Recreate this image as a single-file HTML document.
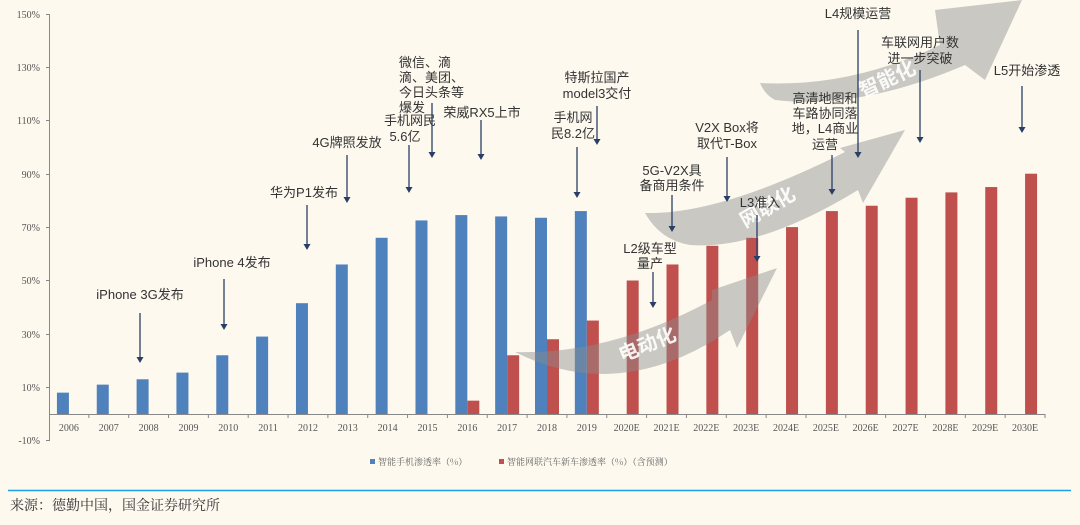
<!DOCTYPE html>
<html><head><meta charset="utf-8"><style>
body{margin:0;background:#fdf9ef;}
svg{display:block;font-family:"Liberation Sans","Noto Sans CJK SC",sans-serif;}
</style></head><body>
<svg width="1080" height="525" viewBox="0 0 1080 525" xmlns="http://www.w3.org/2000/svg">
<rect width="1080" height="525" fill="#fdf9ef"/>
<!-- axes -->
<g stroke="#888" stroke-width="1">
<line x1="49.5" y1="14" x2="49.5" y2="441"/>
<line x1="49" y1="414.5" x2="1045" y2="414.5"/>
<line x1="46" y1="14.5" x2="49" y2="14.5"/><line x1="46" y1="67.5" x2="49" y2="67.5"/>
<line x1="46" y1="120.5" x2="49" y2="120.5"/><line x1="46" y1="174.5" x2="49" y2="174.5"/>
<line x1="46" y1="227.5" x2="49" y2="227.5"/><line x1="46" y1="280.5" x2="49" y2="280.5"/>
<line x1="46" y1="334.5" x2="49" y2="334.5"/><line x1="46" y1="387.5" x2="49" y2="387.5"/>
<line x1="46" y1="440.5" x2="49" y2="440.5"/>
</g>
<g font-family="Liberation Serif,serif" font-size="10" fill="#555" text-anchor="end">
<text x="40" y="18">150%</text><text x="40" y="71">130%</text><text x="40" y="124">110%</text>
<text x="40" y="178">90%</text><text x="40" y="231">70%</text><text x="40" y="284">50%</text>
<text x="40" y="338">30%</text><text x="40" y="391">10%</text><text x="40" y="444">-10%</text>
</g>
<g id="bars"></g>
<g id="xl" font-family="Liberation Serif,serif" font-size="10" fill="#555" text-anchor="middle"></g>
<!-- gray arrows -->
<g fill="#8c8c8c" fill-opacity="0.45">
<path d="M515,352 Q610,355 712,300 L712,290 L777,268 L737,348 L730,330 Q620,405 515,352 Z"/>
<path d="M645,213 Q720,215 845,152 L840,148 L905,130 L863,203 L858,190 Q760,250 690,245 Q660,240 645,213 Z"/>
<path d="M760,83 Q850,88 940,45 L935,10 L1022,0 L985,80 L965,65 Q860,110 775,100 Q765,95 760,83 Z"/>
</g>
<g fill="#fff" font-weight="bold" font-size="20" fill-opacity="0.9">
<text transform="translate(622,362) rotate(-22)">电动化</text>
<text transform="translate(745,228) rotate(-30)">网联化</text>
<text transform="translate(863,98) rotate(-25)">智能化</text>
</g>
<!-- annotations -->
<g font-size="13" fill="#333" text-anchor="middle">
<text x="140" y="299">iPhone 3G发布</text>
<text x="232" y="267">iPhone 4发布</text>
<text x="304" y="197">华为P1发布</text>
<text x="347" y="147">4G牌照发放</text>
<text x="410" y="125">手机网民</text><text x="405" y="141">5.6亿</text>
<text x="399" y="67" text-anchor="start">微信、滴</text>
<text x="399" y="82" text-anchor="start">滴、美团、</text>
<text x="399" y="97" text-anchor="start">今日头条等</text>
<text x="399" y="112" text-anchor="start">爆发</text>
<text x="482" y="117">荣威RX5上市</text>
<text x="597" y="82">特斯拉国产</text><text x="597" y="98">model3交付</text>
<text x="573" y="122">手机网</text><text x="573" y="138">民8.2亿</text>
<text x="672" y="175">5G-V2X具</text><text x="672" y="190">备商用条件</text>
<text x="650" y="253">L2级车型</text><text x="650" y="268">量产</text>
<text x="727" y="132">V2X Box将</text><text x="727" y="148">取代T-Box</text>
<text x="760" y="207">L3准入</text>
<text x="825" y="103">高清地图和</text><text x="825" y="118">车路协同落</text>
<text x="825" y="133">地，L4商业</text><text x="825" y="149">运营</text>
<text x="858" y="18">L4规模运营</text>
<text x="920" y="47">车联网用户数</text><text x="920" y="63">进一步突破</text>
<text x="1027" y="75">L5开始渗透</text>
</g>
<g stroke="#2a3f66" stroke-width="1.3" fill="#2a3f66" id="arr"></g>
<!-- legend -->
<rect x="370" y="459" width="5" height="5" fill="#4f81bd"/>
<rect x="499" y="459" width="5" height="5" fill="#c0504d"/>
<g font-family="Noto Serif CJK SC,serif" font-size="9" fill="#666">
<text x="378" y="465">智能手机渗透率（%）</text>
<text x="507" y="465">智能网联汽车新车渗透率（%）（含预测）</text>
</g>
<line x1="8" y1="490.5" x2="1071" y2="490.5" stroke="#1ea0e6" stroke-width="1.5"/>
<text x="10" y="510" font-family="Noto Serif CJK SC,serif" font-size="14" fill="#333">来源：德勤中国，国金证券研究所</text>
</svg>
<script>
var ns="http://www.w3.org/2000/svg";
var blue=[8,11,13,15.5,22,29,41.5,56,66,72.5,74.5,74,73.5,76];
var red={10:5,11:22,12:28,13:35,14:50,15:56,16:63,17:66,18:70,19:76,20:78,21:81,22:83,23:85,24:90};
var g=document.getElementById('bars'),xl=document.getElementById('xl');
var w=39.84;
function r(x,y,wd,h,c){var e=document.createElementNS(ns,'rect');e.setAttribute('x',x);e.setAttribute('y',y);e.setAttribute('width',wd);e.setAttribute('height',h);e.setAttribute('fill',c);g.appendChild(e);}
for(var i=0;i<25;i++){
 var c=49+(i+0.5)*w;
 if(i<14){var h=blue[i]*2.67;r(c-12,414-h,12,h,'#4f81bd');}
 if(red[i]){var h=red[i]*2.67;r(c,414-h,12,h,'#c0504d');}
 var l=document.createElementNS(ns,'line');var tx=49+(i+1)*w;
 l.setAttribute('x1',tx);l.setAttribute('x2',tx);l.setAttribute('y1',414);l.setAttribute('y2',418);l.setAttribute('stroke','#888');g.appendChild(l);
 var t=document.createElementNS(ns,'text');t.setAttribute('x',c);t.setAttribute('y',431);
 t.textContent=(2006+i)+(i>=14?'E':'');xl.appendChild(t);
}
var arr=[[140,313,363],[224,279,330],[307,205,250],[347,155,203],[409,145,193],[432,103,158],[481,120,160],[597,106,145],[577,147,198],[672,195,232],[653,272,308],[727,157,202],[757,215,262],[832,155,195],[858,30,158],[920,70,143],[1022,86,133]];
var a=document.getElementById('arr');
arr.forEach(function(p){
 var l=document.createElementNS(ns,'line');l.setAttribute('x1',p[0]);l.setAttribute('x2',p[0]);l.setAttribute('y1',p[1]);l.setAttribute('y2',p[2]-5);a.appendChild(l);
 var h=document.createElementNS(ns,'path');h.setAttribute('d','M'+(p[0]-3.5)+','+(p[2]-6)+' L'+(p[0]+3.5)+','+(p[2]-6)+' L'+p[0]+','+p[2]+'Z');h.setAttribute('stroke','none');a.appendChild(h);
});
</script>
</body></html>
